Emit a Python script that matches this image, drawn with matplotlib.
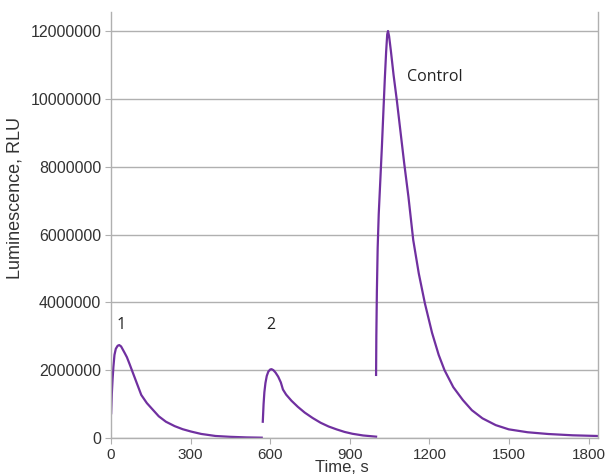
"""
Luminescence kinetics: sample 1, sample 2 and control
"""

import matplotlib.pyplot as plt

# Import the data
t1 = [0.5, 3, 6, 9, 13, 18, 25, 31, 38, 45, 52, 60, 70, 83, 98, 114, 135, 158,
      180, 207, 240, 270, 302, 340, 394, 450, 510, 568]
y1 = [730000, 1300000, 1750000, 2100000, 2450000, 2630000, 2720000, 2740000,
      2700000, 2600000, 2500000, 2380000, 2180000, 1910000, 1600000, 1270000,
      1030000, 830000, 640000, 480000, 350000, 260000, 190000, 120000, 60000,
      35000, 18000, 10000]

t2 = [572, 575, 578, 582, 587, 593, 600, 605, 612, 620, 630, 640, 648, 660, 680,
      704, 730, 760, 790, 820, 850, 880, 910, 950, 999]
y2 = [480000, 1000000, 1350000, 1620000, 1830000, 1960000, 2020000, 2030000,
      2000000, 1930000, 1810000, 1640000, 1430000, 1280000, 1100000, 920000,
      750000, 590000, 450000, 340000, 255000, 180000, 125000, 75000, 40000]

t3 = [999, 1000, 1002, 1005, 1009, 1015, 1021, 1027, 1032, 1037, 1041, 1044,
      1048, 1055, 1065, 1077, 1090, 1105, 1121, 1139, 1160, 1183, 1210, 1235,
      1257, 1290, 1326, 1360, 1400, 1450, 1499, 1570, 1648, 1740, 1837]
y3 = [1860000, 3000000, 4300000, 5600000, 6600000, 7600000, 8600000, 9700000,
      10600000, 11400000, 11900000, 12000000, 11850000, 11400000, 10700000,
      9970000, 9100000, 8100000, 7110000, 5840000, 4850000, 3970000, 3100000,
      2450000, 2000000, 1500000, 1120000, 820000, 580000, 380000, 256000,
      170000, 118000, 80000, 59000]

labels = ['1', '2', 'Control']
label_x = [37, 604, 1114]
label_y = [3330000, 3330000, 10650000]

purple = '#7030a0'
grey = '#b0b0b0'

plt.rcParams['font.family'] = ['Liberation Sans', 'DejaVu Sans']

fig = plt.figure(figsize=(6.1, 4.76), dpi=100)
ax = fig.add_axes([0.182, 0.0798, 0.799, 0.895])

for t, y in [(t1, y1), (t2, y2), (t3, y3)]:
    ax.plot(t, y, color=purple, linewidth=1.6, solid_joinstyle='round')

for lab, x, y in zip(labels, label_x, label_y):
    ax.text(x, y, lab, fontsize=11.5, family=['Open Sans', 'DejaVu Sans'],
            ha='center' if lab != 'Control' else 'left', va='center', color='#222222')

ax.set_xlim(0, 1837)
ax.set_ylim(0, 12560000)
ax.set_xticks([0, 300, 600, 900, 1200, 1500, 1800])
ax.set_yticks(range(0, 12000001, 2000000))
ax.set_yticklabels([str(v) for v in range(0, 12000001, 2000000)])

ax.grid(axis='y', color=grey, linewidth=1.0)
ax.set_axisbelow(True)
ax.spines['top'].set_visible(False)
for s in ['left', 'right', 'bottom']:
    ax.spines[s].set_color(grey)
    ax.spines[s].set_linewidth(1.0)
ax.tick_params(colors=grey, labelcolor='#333333', labelsize=11.5, length=4, pad=3)
ax.tick_params(axis='x', labelsize=11)

ax.set_xlabel('Time, s', fontsize=12, color='#333333')
ax.xaxis.set_label_coords(0.473, -0.052)
ax.set_ylabel('Luminescence, RLU', fontsize=13, color='#333333')
ax.yaxis.set_label_coords(-0.18, 0.563)

plt.savefig('out.png', dpi=100)
